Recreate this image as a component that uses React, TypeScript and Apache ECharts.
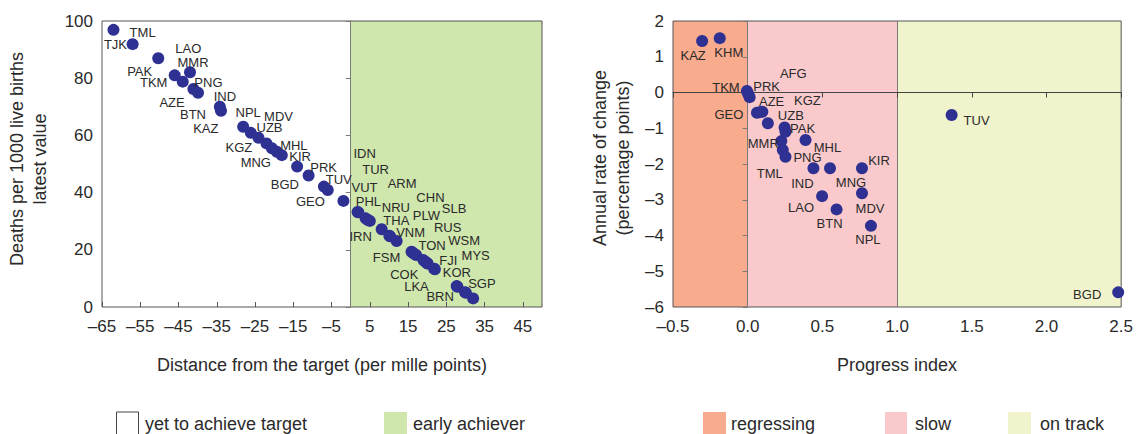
import React, { useEffect, useRef } from 'react';
import * as echarts from 'echarts';

// ---------- Left chart: distance from target vs latest value ----------
const LEFT_CODES = [
  'TJK', 'TML', 'LAO', 'PAK', 'MMR', 'TKM', 'PNG', 'AZE', 'IND', 'BTN',
  'NPL', 'KAZ', 'MDV', 'UZB', 'KGZ', 'MHL', 'MNG', 'KIR', 'PRK', 'BGD', 'TUV', 'GEO',
  'PHL', 'IDN', 'TUR', 'VUT', 'NRU', 'IRN', 'THA', 'ARM', 'VNM', 'FSM', 'CHN', 'TON',
  'PLW', 'COK', 'FJI', 'RUS', 'SLB', 'KOR', 'LKA', 'MYS', 'SGP', 'WSM', 'BRN',
];
const LEFT_DISTANCE = [
  -62.0, -57.0, -50.3, -46.0, -42.0, -43.9, -41.1, -39.9, -34.2, -33.9,
  -28.1, -26.1, -24.1, -22.0, -20.6, -19.3, -18.0, -14.0, -11.0, -7.0, -6.0, -1.9,
  2.0, 1.8, 3.9, 4.4, 5.0, 8.1, 10.1, 10.3, 12.0, 15.9, 16.4, 17.1,
  19.0, 19.5, 20.0, 20.1, 21.8, 22.0, 27.9, 27.7, 30.1, 29.9, 32.0,
];
const LEFT_LATEST = [
  96.9, 91.9, 87.0, 81.0, 82.1, 78.8, 76.2, 74.9, 70.0, 68.6,
  63.0, 60.9, 59.2, 57.2, 55.5, 54.3, 53.1, 49.1, 46.0, 42.1, 40.9, 37.1,
  33.1, 33.2, 31.0, 30.5, 30.1, 27.2, 24.9, 24.7, 23.1, 19.3, 18.8, 18.2,
  16.4, 15.8, 15.3, 15.2, 13.4, 13.2, 7.1, 7.3, 5.0, 5.2, 3.0,
];
const LEFT_X_TICKS = [-65, -55, -45, -35, -25, -15, -5, 5, 15, 25, 35, 45];

// ---------- Right chart: progress index vs annual rate of change ----------
const RIGHT_CODES = [
  'KAZ', 'KHM', 'TKM', 'AFG', 'PRK', 'GEO', 'AZE', 'KGZ', 'UZB', 'PAK', 'TJK', 'MHL',
  'MMR', 'TML', 'PNG', 'IND', 'MNG', 'KIR', 'LAO', 'BTN', 'MDV', 'NPL', 'TUV', 'BGD',
];
const RIGHT_PROGRESS = [
  -0.305, -0.187, -0.005, 0.004, 0.013, 0.062, 0.08, 0.098, 0.135, 0.247, 0.253, 0.387,
  0.225, 0.235, 0.253, 0.44, 0.551, 0.765, 0.498, 0.595, 0.765, 0.825, 1.365, 2.48,
];
const RIGHT_RATE = [
  1.44, 1.52, 0.04, -0.04, -0.13, -0.565, -0.55, -0.537, -0.86, -0.98, -1.10, -1.33,
  -1.36, -1.61, -1.80, -2.12, -2.12, -2.12, -2.90, -3.27, -2.82, -3.73, -0.63, -5.59,
];

const LEFT_LEGEND = ['yet to achieve target', 'early achiever'];
const RIGHT_LEGEND = ['regressing', 'slow', 'on track'];

const X_TITLE_LEFT = 'Distance from the target (per mille points)';
const Y_TITLE_LEFT = 'Deaths per 1000 live births\nlatest value';
const X_TITLE_RIGHT = 'Progress index';
const Y_TITLE_RIGHT = 'Annual rate of change\n(percentage points)';

// ---------- Label placement (pixel offsets from each dot) ----------
const LEFT_LABEL_OFFSET: Record<string, number[]> = {
  TJK: [2, 15], TML: [10, -12], LAO: [30, -10], PAK: [-35, -4], MMR: [3, -10],
  TKM: [-29, 1], PNG: [15, -7], AZE: [-26, 10], IND: [5, -10], BTN: [-28, 4],
  NPL: [5, -14], KAZ: [-45, -4], MDV: [20, -21], UZB: [3, -16], KGZ: [-33, -1],
  MHL: [17, -6], MNG: [-26, 7], KIR: [3, -10], PRK: [15, -8], BGD: [-39, -2],
  TUV: [11, -11], GEO: [-33, 1],
  PHL: [10, -11], IDN: [7, -59], TUR: [10, -49], VUT: [-3, -32], NRU: [26, -13],
  IRN: [-21, 7], THA: [7, -15], ARM: [12, -53], VNM: [14, -8], FSM: [-25, 6],
  CHN: [17, -56], TON: [16, -9], PLW: [3, -45], COK: [-21, 13], FJI: [21, -3],
  RUS: [20, -36], SLB: [20, -60], KOR: [22, 3], LKA: [-41, 0], MYS: [19, -31],
  SGP: [16, -9], WSM: [-1, -52], BRN: [-33, -2],
};
const RIGHT_LABEL_OFFSET: Record<string, number[] | null> = {
  KAZ: [-9, 14], KHM: [9, 14], TKM: [-21, -4], AFG: [45, -20], PRK: [17, -11],
  GEO: [-28, 2], AZE: [12, -11], KGZ: [45, -11], UZB: [23, -8], PAK: [18, 1],
  TJK: null, MHL: [22, 7], MMR: [-18, 2], TML: [-13, 23], PNG: [22, 1],
  IND: [-11, 15], MNG: [21, 14], KIR: [17, -8], LAO: [-21, 11], BTN: [-7, 14],
  MDV: [8, 15], NPL: [-3, 14], TUV: [25, 5], BGD: [-31, 2],
};

const FONT = '"Liberation Sans", Arial, Helvetica, sans-serif';
const TEXT = '#2a2a2a';
const DOT = '#2e3192';
const GREEN = '#cfe6ad';
const SALMON = '#f9ab8d';
const PINK = '#f9c9cb';
const CREAM = '#f1f3cd';
const BORDER = '#555555';
const MIDLINE = '#7a7a7a';

function fmt(v: number, digits: number) {
  const s = Math.abs(v).toFixed(digits);
  return v < 0 ? '\u2013' + s : s;
}

const tickLabel = (digits: number, margin: number) => ({
  fontSize: 17,
  color: TEXT,
  fontFamily: FONT,
  margin,
  formatter: (v: number) => fmt(v, digits),
});

export default function App() {
  const ref = useRef<HTMLDivElement>(null);

  useEffect(() => {
    if (!ref.current) return;
    const chart = echarts.init(ref.current, undefined, { renderer: 'svg' });

    const leftData = LEFT_CODES.map((c, i) => ({
      name: c,
      value: [LEFT_DISTANCE[i], LEFT_LATEST[i]],
      label: { offset: LEFT_LABEL_OFFSET[c] || [0, 0] },
    }));
    const rightData = RIGHT_CODES.map((c, i) => {
      const off = RIGHT_LABEL_OFFSET[c];
      return {
        name: c,
        value: [RIGHT_PROGRESS[i], RIGHT_RATE[i]],
        label: off ? { offset: off } : { show: false },
      };
    });

    const pointLabel = {
      show: true,
      position: 'inside',
      formatter: '{b}',
      fontSize: 13,
      color: TEXT,
      fontFamily: FONT,
      align: 'center',
      verticalAlign: 'middle',
    };

    const legendItems: any[] = [];
    const legendBox = (x: number, w: number, fill: string, stroke?: string) => ({
      type: 'rect',
      shape: { x, y: 412, width: w, height: 24 },
      style: { fill, stroke: stroke || fill, lineWidth: stroke ? 1 : 0 },
    });
    const legendText = (x: number, text: string) => ({
      type: 'text',
      x,
      y: 423.5,
      style: { text, fontSize: 18, fill: TEXT, fontFamily: FONT, align: 'left', verticalAlign: 'middle' },
    });
    legendItems.push(legendBox(116.5, 22, '#ffffff', '#444444'), legendText(145, LEFT_LEGEND[0]));
    legendItems.push(legendBox(384, 23, GREEN), legendText(413, LEFT_LEGEND[1]));
    legendItems.push(legendBox(703, 23, SALMON), legendText(731, RIGHT_LEGEND[0]));
    legendItems.push(legendBox(885, 22, PINK), legendText(915, RIGHT_LEGEND[1]));
    legendItems.push(legendBox(1008, 23, CREAM), legendText(1040, RIGHT_LEGEND[2]));

    const yTitle = (x: number, y: number, text: string) => ({
      type: 'text',
      x,
      y,
      rotation: Math.PI / 2,
      style: {
        text,
        fontSize: 18,
        lineHeight: 23,
        fill: TEXT,
        fontFamily: FONT,
        align: 'center',
        verticalAlign: 'middle',
      },
    });

    const option: any = {
      animation: false,
      backgroundColor: '#ffffff',
      grid: [
        { left: 102, top: 21, width: 440, height: 286, show: true, borderColor: BORDER, borderWidth: 1, backgroundColor: 'transparent', z: 2 },
        { left: 673, top: 21, width: 450, height: 286, show: true, borderColor: BORDER, borderWidth: 1, backgroundColor: 'transparent', z: 2 },
      ],
      xAxis: [
        {
          gridIndex: 0, type: 'value', min: -65, max: 50, position: 'bottom', z: 2,
          axisLine: { show: false, onZero: false },
          axisTick: { show: true, inside: true, length: 5, lineStyle: { color: BORDER }, customValues: LEFT_X_TICKS },
          axisLabel: { ...tickLabel(0, 11), customValues: LEFT_X_TICKS },
          splitLine: { show: false },
          name: X_TITLE_LEFT, nameLocation: 'middle', nameGap: 49,
          nameTextStyle: { fontSize: 18, color: TEXT, fontFamily: FONT },
        },
        {
          gridIndex: 1, type: 'value', min: -0.5, max: 2.5, interval: 0.5, position: 'bottom', z: 2,
          axisLine: { show: false, onZero: false },
          axisTick: { show: false },
          axisLabel: tickLabel(1, 11),
          splitLine: { show: false },
          name: X_TITLE_RIGHT, nameLocation: 'middle', nameGap: 49,
          nameTextStyle: { fontSize: 18, color: TEXT, fontFamily: FONT },
        },
        {
          gridIndex: 1, type: 'value', min: -0.5, max: 2.5, interval: 0.5, position: 'bottom', z: 2,
          axisLine: { show: true, onZero: true, onZeroAxisIndex: 2, lineStyle: { color: '#444444', width: 1 } },
          axisTick: { show: true, inside: false, length: 5, lineStyle: { color: '#444444' } },
          axisLabel: { show: false },
          splitLine: { show: false },
        },
      ],
      yAxis: [
        {
          gridIndex: 0, type: 'value', min: 0, max: 100, interval: 20, position: 'left', z: 2,
          axisLine: { show: false, onZero: false },
          axisTick: { show: false },
          axisLabel: tickLabel(0, 9),
          splitLine: { show: false },
        },
        {
          gridIndex: 0, type: 'value', min: 0, max: 100, interval: 20, position: 'left', z: 2,
          axisLine: { show: true, onZero: true, onZeroAxisIndex: 0, lineStyle: { color: MIDLINE, width: 1 } },
          axisTick: { show: true, inside: false, length: 5, lineStyle: { color: MIDLINE } },
          axisLabel: { show: false },
          splitLine: { show: false },
        },
        {
          gridIndex: 1, type: 'value', min: -6, max: 2, interval: 1, position: 'left', z: 2,
          axisLine: { show: false, onZero: false },
          axisTick: { show: false },
          axisLabel: tickLabel(0, 9),
          splitLine: { show: false },
        },
        {
          gridIndex: 1, type: 'value', min: -6, max: 2, interval: 1, position: 'left', z: 2,
          axisLine: { show: true, onZero: true, onZeroAxisIndex: 1, lineStyle: { color: MIDLINE, width: 1 } },
          axisTick: { show: true, inside: false, length: 5, lineStyle: { color: MIDLINE } },
          axisLabel: { show: false },
          splitLine: { show: false },
        },
      ],
      series: [
        {
          type: 'scatter', xAxisIndex: 0, yAxisIndex: 0, z: 3,
          symbol: 'circle', symbolSize: 12,
          itemStyle: { color: DOT, opacity: 1 },
          label: pointLabel,
          data: leftData,
          markArea: {
            silent: true, z: 1,
            itemStyle: { color: GREEN },
            data: [[{ xAxis: 0 }, { xAxis: 50 }]],
          },
        },
        {
          type: 'scatter', xAxisIndex: 1, yAxisIndex: 2, z: 3,
          symbol: 'circle', symbolSize: 12,
          itemStyle: { color: DOT, opacity: 1 },
          label: pointLabel,
          data: rightData,
          markArea: {
            silent: true, z: 1,
            data: [
              [{ xAxis: -0.5, itemStyle: { color: SALMON } }, { xAxis: 0 }],
              [{ xAxis: 0, itemStyle: { color: PINK } }, { xAxis: 1 }],
              [{ xAxis: 1, itemStyle: { color: CREAM } }, { xAxis: 2.5 }],
            ],
          },
          markLine: {
            silent: true, z: 2, symbol: 'none',
            lineStyle: { color: MIDLINE, type: 'solid', width: 1 },
            label: { show: false },
            data: [{ xAxis: 1 }],
          },
        },
      ],
      graphic: [
        yTitle(28.5, 159, Y_TITLE_LEFT),
        yTitle(611, 158, Y_TITLE_RIGHT),
        ...legendItems,
      ],
    };

    chart.setOption(option);
    return () => chart.dispose();
  }, []);

  return (
    <div
      ref={ref}
      style={{ position: 'absolute', left: 0, top: 0, width: 1136, height: 434, background: '#fff' }}
    />
  );
}
